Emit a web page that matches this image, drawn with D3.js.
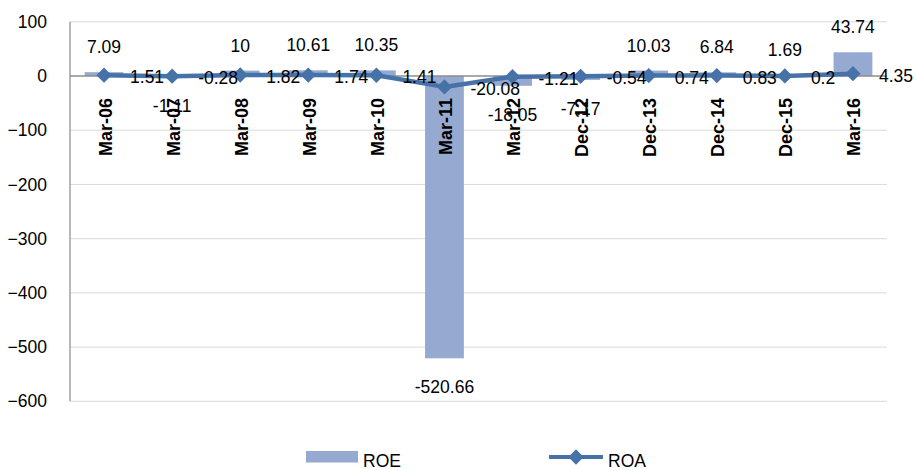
<!DOCTYPE html>
<html>
<head>
<meta charset="utf-8">
<script src="https://cdn.jsdelivr.net/npm/d3@7/dist/d3.min.js"></script>
<style>
  html, body { margin: 0; padding: 0; background: #fff; }
  svg { display: block; font-family: "Liberation Sans", Arial, sans-serif; }
</style>
</head>
<body>
<svg id="chart" width="916" height="470"></svg>
<script>
const categories = ["Mar-06","Mar-07","Mar-08","Mar-09","Mar-10","Mar-11","Mar-12","Dec-12","Dec-13","Dec-14","Dec-15","Mar-16"];
const roe = [7.09, -1.11, 10, 10.61, 10.35, -520.66, -18.05, -7.17, 10.03, 6.84, 1.69, 43.74];
const roa = [1.51, -0.28, 1.82, 1.74, 1.41, -20.08, -1.21, -0.54, 0.74, 0.83, 0.2, 4.35];
const yTicks = [100, 0, -100, -200, -300, -400, -500, -600];
const seriesNames = ["ROE", "ROA"];

const barColor = "#95a9d1";
const lineColor = "#4672a8";
const fs = 17.5;

const svg = d3.select("#chart");
const mLeft = 70, mRight = 887, mTop = 21.8, mBottom = 401.3;

const x = d3.scaleBand().domain(categories).range([mLeft, mRight]).paddingInner(0.43).paddingOuter(0.215);
const xc = d3.scaleBand().domain(categories).range([mLeft, mRight]);
const y = d3.scaleLinear().domain([-600, 100]).range([mBottom, mTop]);

// gridlines
svg.append("g").selectAll("line").data(yTicks.filter(d => d !== 0)).join("line")
  .attr("x1", mLeft).attr("x2", mRight)
  .attr("y1", d => y(d)).attr("y2", d => y(d))
  .attr("stroke", "#d9d9d9").attr("stroke-width", 1);

// y axis
const yAxis = d3.axisLeft(y).tickValues(yTicks).tickSize(0).tickPadding(23).tickFormat(d3.format("d"));
const gy = svg.append("g").attr("transform", `translate(${mLeft},0)`).call(yAxis);
gy.select(".domain").remove();
gy.selectAll("text").attr("font-size", fs).attr("fill", "#000")
  .attr("font-family", "'Liberation Sans', Arial, sans-serif");
svg.append("line").attr("x1", mLeft).attr("x2", mLeft).attr("y1", mTop).attr("y2", mBottom)
  .attr("stroke", "#a0a0a0").attr("stroke-width", 1.5);

// bars
svg.append("g").selectAll("rect").data(roe).join("rect")
  .attr("x", (d, i) => x(categories[i]))
  .attr("width", x.bandwidth())
  .attr("y", d => y(Math.max(0, d)))
  .attr("height", d => Math.abs(y(d) - y(0)))
  .attr("fill", barColor);

// zero line
svg.append("line").attr("x1", mLeft).attr("x2", mRight).attr("y1", y(0)).attr("y2", y(0))
  .attr("stroke", "#8c8c8c").attr("stroke-width", 1.5);

// category labels
const cx = c => xc(c) + xc.bandwidth() / 2;
svg.append("g").selectAll("text").data(categories).join("text")
  .attr("transform", d => `translate(${cx(d) + 1},98) rotate(-90)`)
  .attr("text-anchor", "end")
  .attr("dy", "0.36em")
  .attr("font-size", 18).attr("font-weight", "bold").attr("fill", "#000")
  .text(d => d);

// ROA line
const line = d3.line().x((d, i) => cx(categories[i])).y(d => y(d));
svg.append("path").datum(roa).attr("d", line)
  .attr("fill", "none").attr("stroke", lineColor).attr("stroke-width", 4.5).attr("stroke-linejoin", "round");
const diamond = d3.symbol().type(d3.symbolDiamond2).size(150);
svg.append("g").selectAll("path").data(roa).join("path")
  .attr("transform", (d, i) => `translate(${cx(categories[i])},${y(d)})`)
  .attr("d", diamond).attr("fill", lineColor);

// ROE labels
svg.append("g").selectAll("text").data(roe).join("text")
  .attr("x", (d, i) => cx(categories[i]))
  .attr("y", d => d >= 0 ? y(d) - 19 : y(d) + 35)
  .attr("text-anchor", "middle")
  .attr("font-size", fs).attr("fill", "#000")
  .text(d => d);

// ROA labels
svg.append("g").selectAll("text").data(roa).join("text")
  .attr("x", (d, i) => cx(categories[i]) + 26)
  .attr("y", d => y(d) + 2)
  .attr("dy", "0.35em")
  .attr("font-size", fs).attr("fill", "#000")
  .text(d => d);

// legend
const lg = svg.append("g");
lg.append("rect").attr("x", 306).attr("y", 451).attr("width", 52).attr("height", 11.5).attr("fill", barColor);
lg.append("text").attr("x", 363).attr("y", 467).attr("font-size", fs).attr("fill", "#000").text(seriesNames[0]);
lg.append("line").attr("x1", 549).attr("x2", 603).attr("y1", 457).attr("y2", 457)
  .attr("stroke", lineColor).attr("stroke-width", 4);
lg.append("path").attr("transform", "translate(576,457)").attr("d", diamond).attr("fill", lineColor);
lg.append("text").attr("x", 608).attr("y", 467).attr("font-size", fs).attr("fill", "#000").text(seriesNames[1]);
</script>
</body>
</html>
